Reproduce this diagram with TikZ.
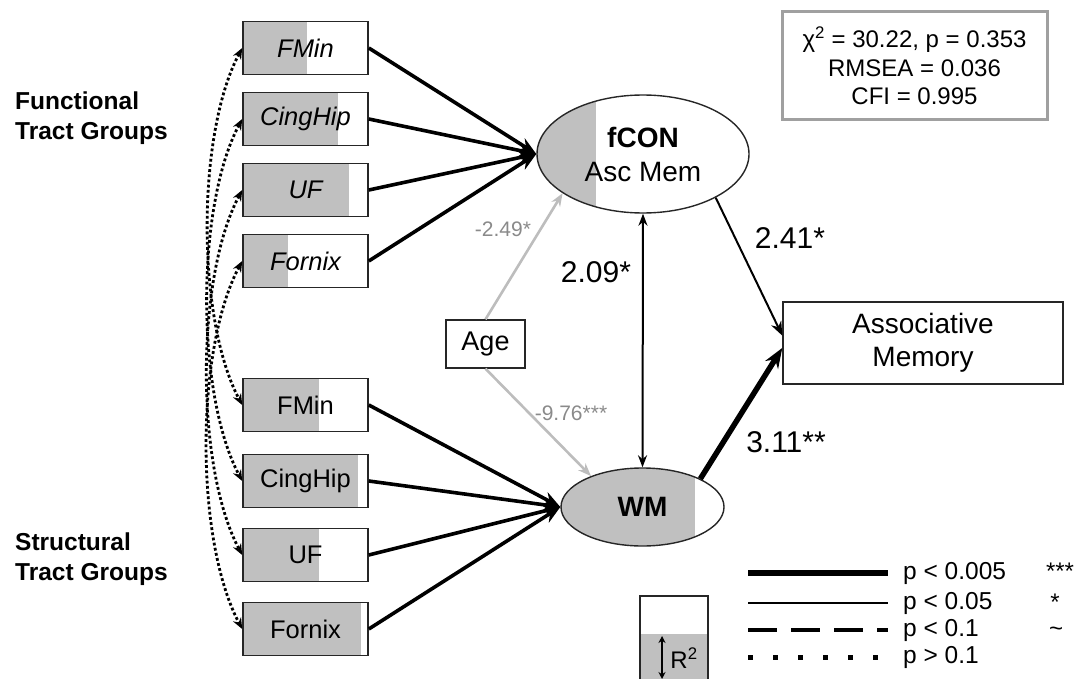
\documentclass[tikz,border=0pt]{standalone}
\usepackage{fontspec}
\setmainfont{Liberation Sans}
\usetikzlibrary{arrows.meta,shapes.geometric,calc}
\definecolor{gfill}{HTML}{C0C0C0}
\definecolor{agegray}{HTML}{BDBDBD}
\definecolor{labgray}{HTML}{8A8A8A}
\definecolor{fitgray}{HTML}{A0A0A0}
\definecolor{edge}{HTML}{262626}
\tikzset{
  partfill/.style={path picture={\fill[gfill] (path picture bounding box.south west) rectangle ($(path picture bounding box.north west)!#1!(path picture bounding box.north east)$);}},
  tbox/.style={draw=edge, line width=1.6pt, minimum width=125pt, minimum height=53pt, inner sep=0pt, font=\fontsize{25.5}{30}\selectfont, partfill=#1},
  latent/.style={ellipse, draw=edge, line width=1.4pt, inner sep=0pt, partfill=#1},
  plainbox/.style={draw=edge, line width=1.4pt, inner sep=0pt},
  patharrow/.style={line width=3.6pt, -{Stealth[length=18pt,width=14pt]}},
  corrarrow/.style={line width=2.8pt, dash pattern=on 2.8pt off 2.4pt, {Stealth[length=11pt,width=9pt]}-{Stealth[length=11pt,width=9pt]}},
  agearrow/.style={agegray, line width=2.6pt, -{Stealth[length=13pt,width=10pt]}},
  coef/.style={font=\fontsize{30}{36}\selectfont, inner sep=0pt},
  agecoef/.style={labgray, font=\fontsize{21}{25}\selectfont, inner sep=0pt},
  grouplab/.style={anchor=west, align=left, inner sep=0pt, font=\bfseries\fontsize{24.5}{30}\selectfont},
  leglab/.style={anchor=west, inner sep=0pt, font=\fontsize{24.5}{28}\selectfont},
}
\begin{document}
\begin{tikzpicture}[x=1pt,y=-1pt]
\useasboundingbox (0,0) rectangle (1076,679);

% group labels
\node[grouplab] (fg) at (15,118) {Functional\\Tract Groups};
\node[grouplab] (sg) at (15,559) {Structural\\Tract Groups};

% functional boxes
\node[tbox=0.51] (f1) at (305.5,48) {\itshape FMin};
\node[tbox=0.76] (f2) at (305.5,119) {\itshape CingHip};
\node[tbox=0.85] (f3) at (305.5,190) {\itshape UF};
\node[tbox=0.36] (f4) at (305.5,261) {\itshape Fornix};

% structural boxes
\node[tbox=0.61] (s1) at (305.5,405) {FMin};
\node[tbox=0.92] (s2) at (305.5,481) {CingHip};
\node[tbox=0.61] (s3) at (305.5,555) {UF};
\node[tbox=0.94] (s4) at (305.5,629) {Fornix};

% latent variables
\node[latent=0.28, minimum width=212pt, minimum height=118pt, align=center, font=\fontsize{28}{34}\selectfont] (fcon) at (643,154) {\textbf{fCON}\\Asc Mem};
\node[latent=0.82, minimum width=163pt, minimum height=78pt, font=\bfseries\fontsize{28}{34}\selectfont] (wm) at (642.5,507) {WM};

% age
\node[plainbox, minimum width=79pt, minimum height=48pt, font=\fontsize{27}{32}\selectfont] (age) at (485.5,344) {Age};

% outcome
\node[plainbox, minimum width=280pt, minimum height=82pt, align=center, font=\fontsize{28}{33}\selectfont] (am) at (923,343) {Associative\\Memory};

% fit box
\node[draw=fitgray, line width=3pt, minimum width=265pt, minimum height=108pt, inner sep=0pt, align=center, font=\fontsize{24}{28.5}\selectfont] (fit) at (914.5,66) {χ\textsuperscript{2} = 30.22, p = 0.353\\RMSEA = 0.036\\CFI = 0.995};

% paths to latent
\foreach \n in {f1,f2,f3,f4} \draw[patharrow] (\n.east) -- (fcon.west);
\foreach \n in {s1,s2,s3,s4} \draw[patharrow] (\n.east) -- (wm.west);

% correlations between functional and structural
\draw[corrarrow] (f1.west) to[bend right=28, looseness=0.7] (s1.west);
\draw[corrarrow] (f2.west) to[bend right=28, looseness=0.7] (s2.west);
\draw[corrarrow] (f3.west) to[bend right=28, looseness=0.7] (s3.west);
\draw[corrarrow] (f4.west) to[bend right=28, looseness=0.7] (s4.west);

% age effects
\draw[agearrow] (age.north) -- (fcon.206);
\draw[agearrow] (age.south) -- (wm.149);
\node[agecoef] (a1) at (503,229) {-2.49*};
\node[agecoef] (a2) at (571,413) {-9.76***};

% covariance and outcome paths
\draw[line width=2pt, {Stealth[length=12pt,width=9pt]}-{Stealth[length=12pt,width=9pt]}] (fcon.south) -- (wm.north);
\draw[line width=2pt, -{Stealth[length=14pt,width=11pt]}] (fcon.-31) -- (am.177);
\draw[line width=5.5pt, -{Stealth[length=20pt,width=15pt]}] (wm.26) -- (am.182);
\node[coef] (c1) at (596,272) {2.09*};
\node[coef] (c2) at (790,238) {2.41*};
\node[coef] (c3) at (786,442) {3.11**};

% legend lines
\coordinate (l1a) at (748,573); \coordinate (l1b) at (888,573);
\coordinate (l2a) at (748,603); \coordinate (l2b) at (888,603);
\coordinate (l3a) at (748,630); \coordinate (l3b) at (888,630);
\coordinate (l4a) at (748,657); \coordinate (l4b) at (888,657);
\draw[line width=5.5pt] (l1a) -- (l1b);
\draw[line width=2pt] (l2a) -- (l2b);
\draw[line width=4.5pt, dash pattern=on 29pt off 14pt] (l3a) -- (l3b);
\draw[line width=5pt, dash pattern=on 5pt off 20pt] (l4a) -- (l4b);
\node[leglab] (p1) at (903,573) {p < 0.005};
\node[leglab] (p2) at (903,603) {p < 0.05};
\node[leglab] (p3) at (903,630) {p < 0.1};
\node[leglab] (p4) at (903,657) {p > 0.1};
\node[inner sep=0pt, font=\fontsize{24}{28}\selectfont] (st1) at (1060,571) {***};
\node[inner sep=0pt, font=\fontsize{24}{28}\selectfont] (st2) at (1055,602) {*};
\node[inner sep=0pt, font=\fontsize{24}{28}\selectfont] (st3) at (1056,632) {\textasciitilde};

% R2 legend
\fill[gfill] (640,634) rectangle (708,681);
\draw[draw=edge, line width=1.4pt] (640,681) -- (640,596) -- (708,596) -- (708,681);
\coordinate (r2a) at (662,636); \coordinate (r2b) at (662,679);
\draw[line width=1.5pt, {Stealth[length=7pt,width=7pt]}-{Stealth[length=7pt,width=7pt]}] (r2a) -- (r2b);
\node[inner sep=0pt, font=\fontsize{24}{28}\selectfont] (r2) at (684,658) {R\textsuperscript{2}};
\end{tikzpicture}
\end{document}
